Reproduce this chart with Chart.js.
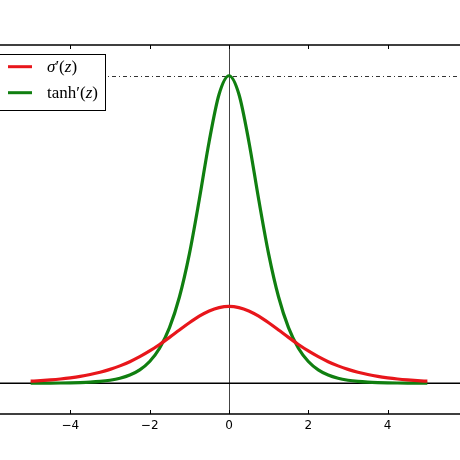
<!DOCTYPE html>
<html>
<head>
<meta charset="utf-8">
<script src="https://cdn.jsdelivr.net/npm/chart.js@4.4.1/dist/chart.umd.min.js"></script>
<style>
html,body{margin:0;padding:0;width:460px;height:460px;overflow:hidden;background:#fff;}
#wrap{position:absolute;left:-9px;top:0;width:476px;height:460px;}
canvas{display:block;}
</style>
</head>
<body>
<div id="wrap"><canvas id="c" width="476" height="460"></canvas></div>
<script>
// Values
const zValues = [-5,-4.75,-4.5,-4.25,-4,-3.75,-3.5,-3.25,-3,-2.75,-2.5,-2.25,-2,-1.75,-1.5,-1.25,-1,-0.75,-0.5,-0.25,0,
                 0.25,0.5,0.75,1,1.25,1.5,1.75,2,2.25,2.5,2.75,3,3.25,3.5,3.75,4,4.25,4.5,4.75,5];
const sigmaPrime = [0.0066,0.0085,0.0109,0.0139,0.0177,0.0224,0.0285,0.0359,0.0452,0.0565,0.0701,0.0863,0.1050,0.1261,0.1491,0.1731,0.1966,0.2179,0.2350,0.2461,0.25,
                    0.2461,0.2350,0.2179,0.1966,0.1731,0.1491,0.1261,0.1050,0.0863,0.0701,0.0565,0.0452,0.0359,0.0285,0.0224,0.0177,0.0139,0.0109,0.0085,0.0066];
const tanhPrime = [0.0002,0.0003,0.0005,0.0008,0.0013,0.0022,0.0036,0.0060,0.0099,0.0162,0.0266,0.0435,0.0707,0.1138,0.1807,0.2804,0.4200,0.5966,0.7864,0.9400,1.0,
                   0.9400,0.7864,0.5966,0.4200,0.2804,0.1807,0.1138,0.0707,0.0435,0.0266,0.0162,0.0099,0.0060,0.0036,0.0022,0.0013,0.0008,0.0005,0.0003,0.0002];
const xTicks = [-4,-2,0,2,4];
const seriesNames = ['σ′(z)', 'tanh′(z)'];

const toPts = ys => zValues.map((z,i)=>({x:z,y:ys[i]}));

const OFF = 9; // canvas offset relative to page

const refPlugin = {
  id:'refLines',
  beforeDatasetsDraw(chart){
    const {ctx, chartArea:a, scales:{x,y}} = chart;
    ctx.save();
    // dash-dot at y=1
    ctx.strokeStyle='#333'; ctx.lineWidth=1;
    ctx.setLineDash([4,3,1,3]);
    const y1 = Math.round(y.getPixelForValue(1))+0.5;
    ctx.beginPath(); ctx.moveTo(a.left,y1); ctx.lineTo(a.right,y1); ctx.stroke();
    ctx.setLineDash([]);
    // vertical x=0
    const x0 = Math.round(x.getPixelForValue(0))+0.5;
    ctx.strokeStyle='#444'; ctx.lineWidth=1;
    ctx.beginPath(); ctx.moveTo(x0,a.top); ctx.lineTo(x0,a.bottom); ctx.stroke();
    // horizontal y=0
    const y0 = y.getPixelForValue(0);
    ctx.strokeStyle='#000'; ctx.lineWidth=1.6;
    ctx.beginPath(); ctx.moveTo(a.left,y0); ctx.lineTo(a.right,y0); ctx.stroke();
    // frame top/bottom
    ctx.lineWidth=1.6;
    ctx.beginPath(); ctx.moveTo(a.left,a.top); ctx.lineTo(a.right,a.top);
    ctx.moveTo(a.left,a.bottom); ctx.lineTo(a.right,a.bottom); ctx.stroke();
    // inward ticks
    ctx.lineWidth=1; ctx.strokeStyle='#000';
    xTicks.forEach(t=>{
      const px = Math.round(x.getPixelForValue(t))+0.5;
      ctx.beginPath();
      ctx.moveTo(px,a.top); ctx.lineTo(px,a.top+4);
      ctx.moveTo(px,a.bottom); ctx.lineTo(px,a.bottom-4);
      ctx.stroke();
    });
    ctx.restore();
  },
  afterDraw(chart){
    const ctx = chart.ctx;
    const ds = chart.data.datasets;
    ctx.save();
    // legend box
    ctx.fillStyle='#fff'; ctx.strokeStyle='#000'; ctx.lineWidth=1;
    ctx.fillRect(OFF-5,54,110,56.5);
    ctx.strokeRect(OFF-5+0.5,54.5,110,56);
    const rows=[{y:66.7,c:ds[0].borderColor},{y:92.7,c:ds[1].borderColor}];
    rows.forEach(r=>{
      ctx.strokeStyle=r.c; ctx.lineWidth=3;
      ctx.beginPath(); ctx.moveTo(OFF+8,r.y); ctx.lineTo(OFF+32,r.y); ctx.stroke();
    });
    ctx.fillStyle='#000'; ctx.textBaseline='alphabetic';
    const it="italic 17px 'Liberation Serif'", rm="17px 'Liberation Serif'";
    const draw=(parts,x,yb)=>{
      parts.forEach(([t,f])=>{ctx.font=f; ctx.fillText(t,x,yb); x+=ctx.measureText(t).width;});
    };
    draw([['σ',it],['′(',rm],['z',it],[')',rm]], OFF+47, 72);
    draw([['tanh′(',rm],['z',it],[')',rm]], OFF+47, 98);
    ctx.restore();
  }
};

new Chart(document.getElementById('c'),{
  type:'line',
  data:{datasets:[
    {label:seriesNames[0],data:toPts(sigmaPrime),borderColor:'#e8161b',borderWidth:3.2,pointRadius:0,cubicInterpolationMode:'monotone',fill:false},
    {label:seriesNames[1],data:toPts(tanhPrime),borderColor:'#107f10',borderWidth:3.2,pointRadius:0,cubicInterpolationMode:'monotone',fill:false}
  ]},
  options:{
    responsive:false, animation:false, devicePixelRatio:1,
    layout:{padding:{top:45,left:0,right:0,bottom:0}},
    plugins:{legend:{display:false},tooltip:{enabled:false}},
    scales:{
      x:{type:'linear',min:-6,max:6,
         afterFit(s){s.height=46; s.paddingLeft=0; s.paddingRight=0;},
         afterBuildTicks(s){s.ticks=[-6,...xTicks,6].map(v=>({value:v}));},
         grid:{display:false,drawTicks:false},border:{display:false},
         ticks:{padding:5,color:'#000',maxRotation:0,font:{family:"'DejaVu Sans'",size:12},
                callback:v=> xTicks.includes(v) ? (v<0?'−'+Math.abs(v):String(v)) : ''}},
      y:{type:'linear',min:-0.1,max:1.1,display:false}
    }
  },
  plugins:[refPlugin]
});
</script>
</body>
</html>
